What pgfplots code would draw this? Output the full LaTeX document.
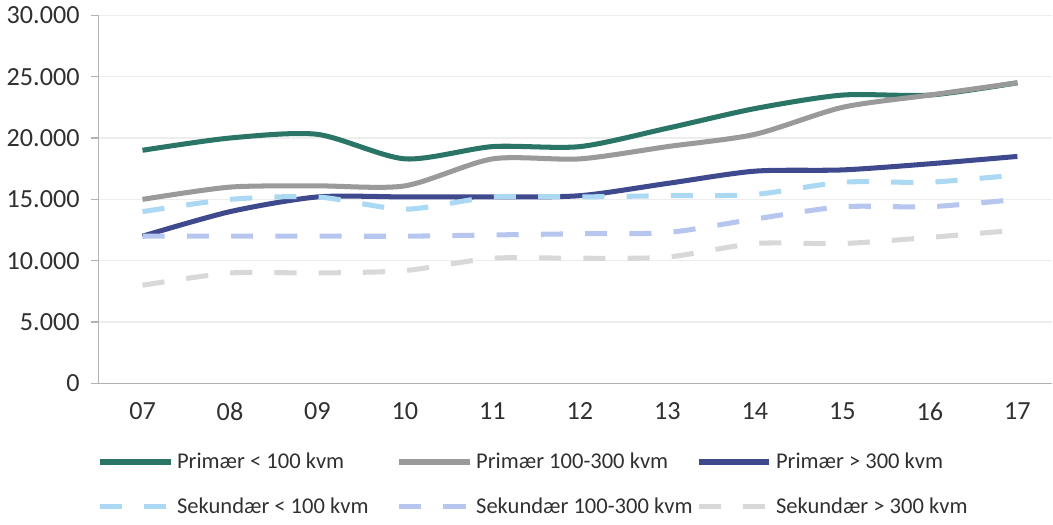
\documentclass[border=0pt]{standalone}
\usepackage{fontspec}
\setmainfont{Carlito}
\usepackage{pgfplots}
\pgfplotsset{compat=1.18}

\definecolor{cTeal}{HTML}{2A7566}
\definecolor{cGray}{HTML}{9A9A9A}
\definecolor{cNavy}{HTML}{3F4A8E}
\definecolor{cLBlue}{HTML}{ABD8F2}
\definecolor{cLav}{HTML}{B6C6EE}
\definecolor{cLGray}{HTML}{D8D8D8}
\definecolor{cText}{HTML}{303030}

\begin{document}
\begin{tikzpicture}
\begin{axis}[
  scale only axis, width=474pt, height=183pt,
  xmin=-0.5, xmax=10.4, ymin=0, ymax=30000,
  xtick={0,...,10},
  xticklabels={07,08,09,10,11,12,13,14,15,16,17},
  ytick={0,5000,...,30000},
  /pgf/number format/.cd, 1000 sep={.}, assume math mode=true,
  /pgfplots/.cd,
  scaled y ticks=false,
  ymajorgrids, grid style={color=black!7, line width=0.6pt},
  axis x line*=bottom, axis y line*=left,
  axis line style={color=black!30, line width=0.6pt},
  x axis line style={-}, y axis line style={-},
  tick style={color=black!30, line width=0.6pt},
  xtick style={draw=none},
  ytick pos=left, tick align=outside, major tick length=4pt,
  tick label style={font=\fontsize{13}{15}\selectfont, text=cText},
  xticklabel style={yshift=-2pt},
  yticklabel style={xshift=-2pt},
  legend columns=3,
  legend style={at={(-0.008,-0.165)}, anchor=north west, draw=none, fill=none,
    font=\fontsize{11.2}{13}\selectfont, text=cText,
    /tikz/column 2/.style={column sep=12pt},
    /tikz/column 4/.style={column sep=0pt},
    row sep=9pt},
  legend cell align=left,
  legend image code/.code={\draw[#1, line width=2.5pt] (0cm,0cm) -- (35pt,0cm);},
  every axis plot/.append style={line width=2.5pt, smooth, tension=0.45},
]
\addplot[cTeal] coordinates {(0,19000) (1,20000) (2,20300) (3,18300) (4,19300) (5,19300) (6,20800) (7,22400) (8,23500) (9,23500) (10,24500)};
\addlegendentry{Primær < 100 kvm}
\addplot[cGray] coordinates {(0,15000) (1,16000) (2,16100) (3,16100) (4,18300) (5,18300) (6,19300) (7,20300) (8,22500) (9,23500) (10,24500)};
\addlegendentry{Primær 100-300 kvm}
\addplot[cNavy] coordinates {(0,12000) (1,14000) (2,15200) (3,15200) (4,15200) (5,15300) (6,16300) (7,17300) (8,17400) (9,17900) (10,18500)};
\addlegendentry{Primær > 300 kvm}
\addplot[cLBlue, dash pattern=on 11pt off 11pt] coordinates {(0,14000) (1,15000) (2,15200) (3,14200) (4,15200) (5,15200) (6,15300) (7,15400) (8,16400) (9,16400) (10,17000)};
\addlegendentry{Sekundær < 100 kvm}
\addplot[cLav, dash pattern=on 11pt off 11pt] coordinates {(0,12000) (1,12000) (2,12000) (3,12000) (4,12100) (5,12200) (6,12300) (7,13400) (8,14400) (9,14400) (10,15000)};
\addlegendentry{Sekundær 100-300 kvm}
\addplot[cLGray, dash pattern=on 11pt off 11pt] coordinates {(0,8000) (1,9000) (2,9000) (3,9200) (4,10200) (5,10200) (6,10300) (7,11400) (8,11400) (9,11900) (10,12500)};
\addlegendentry{Sekundær > 300 kvm}
\end{axis}
\end{tikzpicture}
\end{document}
